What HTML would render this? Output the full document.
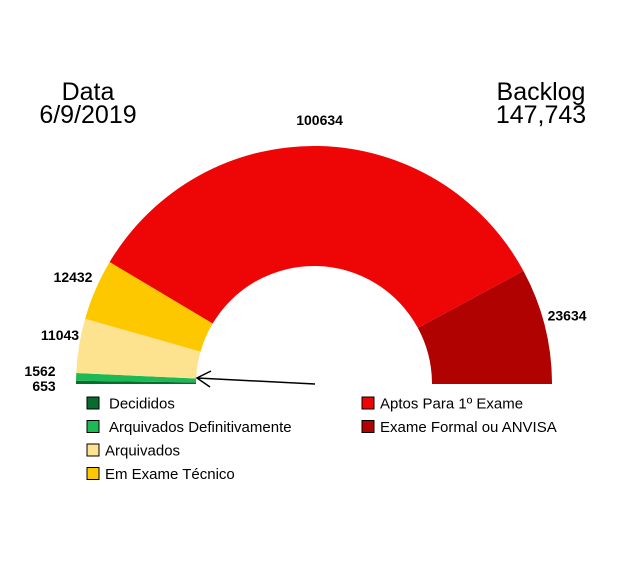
<!DOCTYPE html>
<html><head><meta charset="utf-8"><style>
body{margin:0;background:#fff;font-family:"Liberation Sans",sans-serif}
</style></head><body>
<svg width="617" height="583" style="display:block">
<g font-size="25" fill="#000">
<text x="88" y="100" text-anchor="middle">Data</text>
<text x="88" y="123" text-anchor="middle">6/9/2019</text>
<text x="541" y="100" text-anchor="middle">Backlog</text>
<text x="541" y="123" text-anchor="middle">147,743</text>
</g>
<g id="slices"></g>
<g id="labels" font-weight="bold" font-size="14"></g>
<g stroke="#000" stroke-width="1.5" fill="none">
<line x1="315" y1="384" x2="197" y2="378"/>
<polyline points="211,371 197,378 210,387"/>
</g>
<g id="legend" font-size="15"></g>
</svg>
<script>
const categories=["Decididos","Arquivados Definitivamente","Arquivados","Em Exame Técnico","Aptos Para 1º Exame","Exame Formal ou ANVISA"];
const values=[653,1562,11043,12432,100634,23634];
const colors=["#0a6b2e","#1db954","#fde28f","#fec800","#ee0606","#b10202"];
const cx=314,cy=384,R=238,r=118;
const total=values.reduce((a,b)=>a+b,0);
const NS="http://www.w3.org/2000/svg";
const sg=document.getElementById('slices'),lg=document.getElementById('labels'),leg=document.getElementById('legend');
function pt(a,rad){return [cx-rad*Math.cos(a),cy-rad*Math.sin(a)];}
let acc=0;
const labelPos=[[44,391],[40,376],[60,340],[73,282],[320,123],[567,320]];
values.forEach((v,i)=>{
 const a0=acc/total*Math.PI,a1=(acc+v)/total*Math.PI;acc+=v;
 const [x0,y0]=pt(a0,R),[x1,y1]=pt(a1,R),[x2,y2]=pt(a1,r),[x3,y3]=pt(a0,r);
 const large=(a1-a0)>Math.PI?1:0;
 const p=document.createElementNS(NS,'path');
 p.setAttribute('d',`M${x0},${y0} A${R},${R} 0 ${large} 1 ${x1},${y1} L${x2},${y2} A${r},${r} 0 ${large} 0 ${x3},${y3} Z`);
 p.setAttribute('fill',colors[i]);
 
 
 sg.appendChild(p);
 const t=document.createElementNS(NS,'text');
 const am=(a0+a1)/2;let lx,ly;
 if(i<4){lx=labelPos[i][0];ly=labelPos[i][1];}else{const q=pt(am,R+22);lx=q[0]+(i==5?1:0);ly=q[1]+(i==4?1:0);}
 t.setAttribute('x',lx);t.setAttribute('y',ly);t.setAttribute('text-anchor','middle');
 t.textContent=v;
 
 
 lg.appendChild(t);
 const col=i<4?0:1,row=i<4?i:i-4;
 const lx2=col?362:87,ly2=397+row*23.5;
 const rc=document.createElementNS(NS,'rect');
 rc.setAttribute('x',lx2);rc.setAttribute('y',ly2);rc.setAttribute('width',12);rc.setAttribute('height',12);
 rc.setAttribute('fill',colors[i]);rc.setAttribute('stroke','#000');rc.setAttribute('stroke-width','1');
 
 
 leg.appendChild(rc);
 const lt=document.createElementNS(NS,'text');
 lt.setAttribute('x',lx2+18+(i<2?4:0));lt.setAttribute('y',ly2+11.5);
 lt.textContent=categories[i];
 
 
 leg.appendChild(lt);
});
</script>
</body></html>
